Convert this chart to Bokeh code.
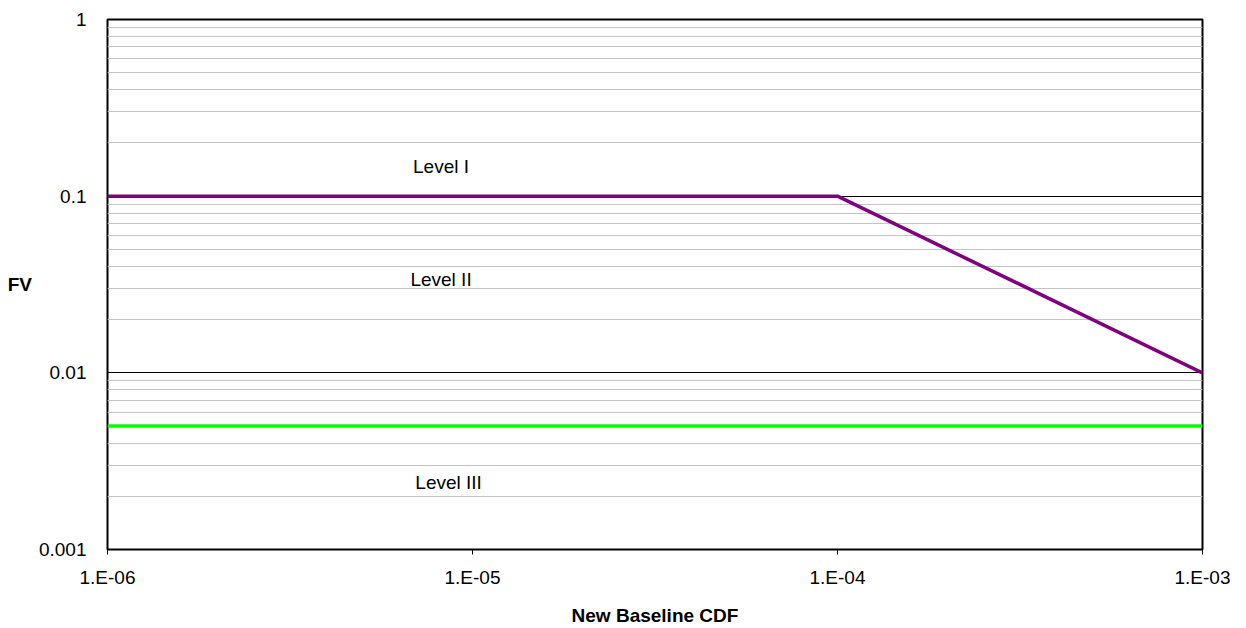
from bokeh.plotting import figure
from bokeh.models import FixedTicker
from bokeh.core.properties import value
from bokeh.embed import file_html
from bokeh.resources import INLINE

# ---- data ----
limit_x = [1e-6, 1e-4, 1e-3]
limit_y = [0.1, 0.1, 0.01]
green_x = [1e-6, 1e-3]
green_y = [0.005, 0.005]

level_x = [8.2e-6, 8.2e-6, 8.6e-6]
level_y = [0.147, 0.0338, 0.0024]
level_text = ["Level I", "Level II", "Level III"]

x_ticks = [1e-6, 1e-5, 1e-4, 1e-3]
x_labels = ["1.E-06", "1.E-05", "1.E-04", "1.E-03"]
y_ticks = [0.001, 0.01, 0.1, 1]
y_labels = ["0.001", "0.01", "0.1", "1"]
y_minor = [k * 10.0 ** e for e in (-3, -2, -1) for k in range(2, 10)]

x_title = "New Baseline CDF"
y_title = "FV"

FONT = "Liberation Sans"

p = figure(width=1230, height=636, x_axis_type="log", y_axis_type="log",
           x_range=(1e-6, 1e-3), y_range=(0.001, 1),
           output_backend="svg", toolbar_location=None,
           min_border_left=107, min_border_right=28,
           min_border_top=19, min_border_bottom=87)
p.background_fill_color = "white"
p.border_fill_color = "white"
p.outline_line_color = "black"
p.outline_line_width = 2

xt = FixedTicker(ticks=x_ticks, minor_ticks=[])
yt = FixedTicker(ticks=y_ticks, minor_ticks=y_minor)
p.xaxis.ticker = xt
p.yaxis.ticker = yt
p.xgrid.ticker = xt
p.ygrid.ticker = yt

p.xaxis.major_label_overrides = {t: l for t, l in zip(x_ticks, x_labels)}
p.yaxis.major_label_overrides = {t: l for t, l in zip(y_ticks, y_labels)}

p.xgrid.grid_line_color = None
p.ygrid.grid_line_color = "black"
p.ygrid.grid_line_width = 1
p.ygrid.minor_grid_line_color = "#c4c4c4"
p.ygrid.minor_grid_line_width = 1

for ax in (p.xaxis, p.yaxis):
    ax.axis_line_color = None
    ax.minor_tick_line_color = None
    ax.major_label_text_font = FONT
    ax.major_label_text_font_size = "19px"
    ax.major_label_text_color = "black"
    ax.axis_label_text_font = FONT
    ax.axis_label_text_font_size = "19px"
    ax.axis_label_text_font_style = "bold"
    ax.axis_label_text_color = "black"

p.xaxis.major_tick_line_color = "black"
p.xaxis.major_tick_in = 0
p.xaxis.major_tick_out = 5
p.xaxis.major_label_standoff = 12
p.xaxis.axis_label = x_title
p.xaxis.axis_label_standoff = 14

p.yaxis.major_tick_line_color = None
p.yaxis.major_tick_in = 0
p.yaxis.major_tick_out = 0
p.yaxis.major_label_standoff = 17
p.yaxis.axis_label = y_title
p.yaxis.axis_label_orientation = "horizontal"
p.yaxis.axis_label_standoff = 4

p.line(green_x, green_y, line_color="#00ff00", line_width=3.5)
p.line(limit_x, limit_y, line_color="#800080", line_width=3.5)

p.text(level_x, level_y, text=level_text, text_font=value(FONT),
       text_font_size="19px", text_align="center", text_baseline="middle",
       text_color="black")

open("out.html", "w").write(file_html(p, INLINE))
